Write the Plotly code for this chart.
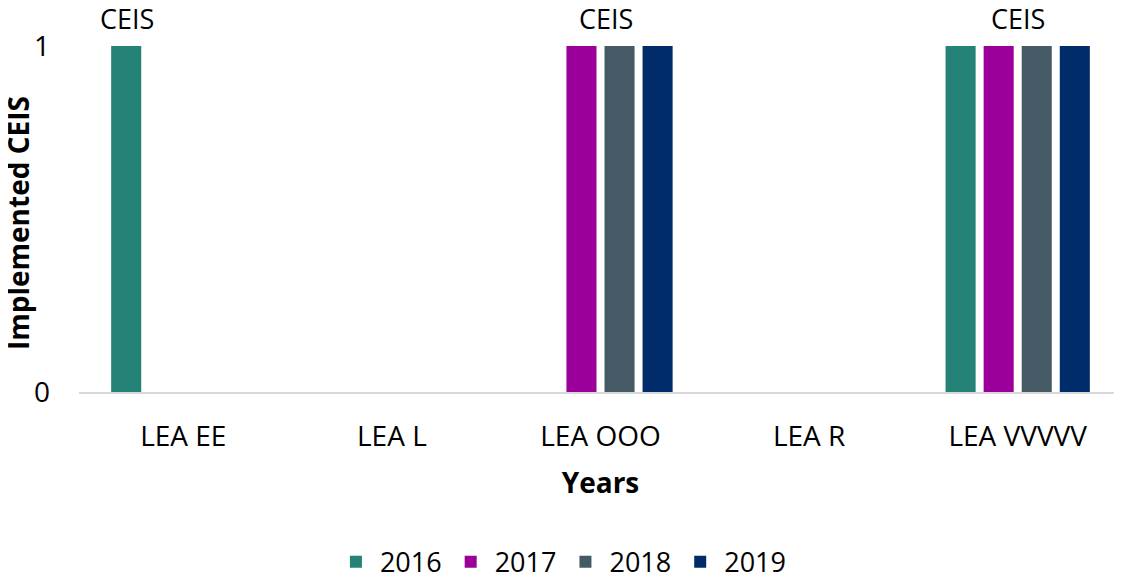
import plotly.graph_objects as go

categories = ["LEA EE", "LEA L", "LEA OOO", "LEA R", "LEA VVVVV"]
years = ["2016", "2017", "2018", "2019"]
values_2016 = [1, 0, 0, 0, 1]
values_2017 = [0, 0, 1, 0, 1]
values_2018 = [0, 0, 1, 0, 1]
values_2019 = [0, 0, 1, 0, 1]
colors = ["#248277", "#9B009B", "#465A66", "#002D6A"]
label_text = "CEIS"
label_categories = ["LEA EE", "LEA OOO", "LEA VVVVV"]
label_shifts = [-56, 5, 0]
y_title = "Implemented CEIS"
x_title = "Years"

FONT = "Open Sans"
FS = 28
series = [values_2016, values_2017, values_2018, values_2019]

fig = go.Figure()
for name, vals, col in zip(years, series, colors):
    fig.add_trace(go.Bar(x=categories, y=vals, name=name, marker_color=col,
                         marker_line_width=0))

for cat, sh in zip(label_categories, label_shifts):
    fig.add_annotation(x=cat, y=1, xref="x", yref="y", text=label_text,
                       showarrow=False, xshift=sh, yshift=28,
                       font=dict(family=FONT, size=27, color="#000000"))

# y-axis title as rotated annotation
fig.add_annotation(x=0, y=0.5, xref="paper", yref="paper", text="<b>" + y_title + "</b>",
                   textangle=-90, showarrow=False, xanchor="center", yanchor="middle",
                   xshift=-61, yshift=-4, font=dict(family=FONT, size=FS, color="#000000"))

# page body has an 8px default margin, so the figure is sized/offset accordingly
fig.update_layout(
    width=1114, height=569,
    margin=dict(l=71, r=0, t=38, b=185),
    paper_bgcolor="white", plot_bgcolor="white",
    barmode="group", bargap=0.27, bargroupgap=0.21,
    font=dict(family=FONT, size=FS, color="#000000"),
    showlegend=True,
    legend=dict(orientation="h", x=0.463, xanchor="center", y=0.026, yanchor="middle",
                yref="container", font=dict(family=FONT, size=27),
                traceorder="normal", itemwidth=38),
    xaxis=dict(showgrid=False, showline=True, linecolor="#D9D9D9", linewidth=1.5,
               ticks="", ticklabelstandoff=19, automargin=False,
               tickfont=dict(family=FONT, size=FS),
               title=dict(text="<b>" + x_title + "</b>", font=dict(family=FONT, size=FS),
                          standoff=20)),
    yaxis=dict(range=[0, 1], tickvals=[0, 1], ticktext=["0", "1"],
               showgrid=True, gridcolor="#D9D9D9", gridwidth=1.5, automargin=False,
               zeroline=False, showline=False, ticks="", ticklabelstandoff=28,
               tickfont=dict(family=FONT, size=FS)),
)
fig.write_html("out.html")
